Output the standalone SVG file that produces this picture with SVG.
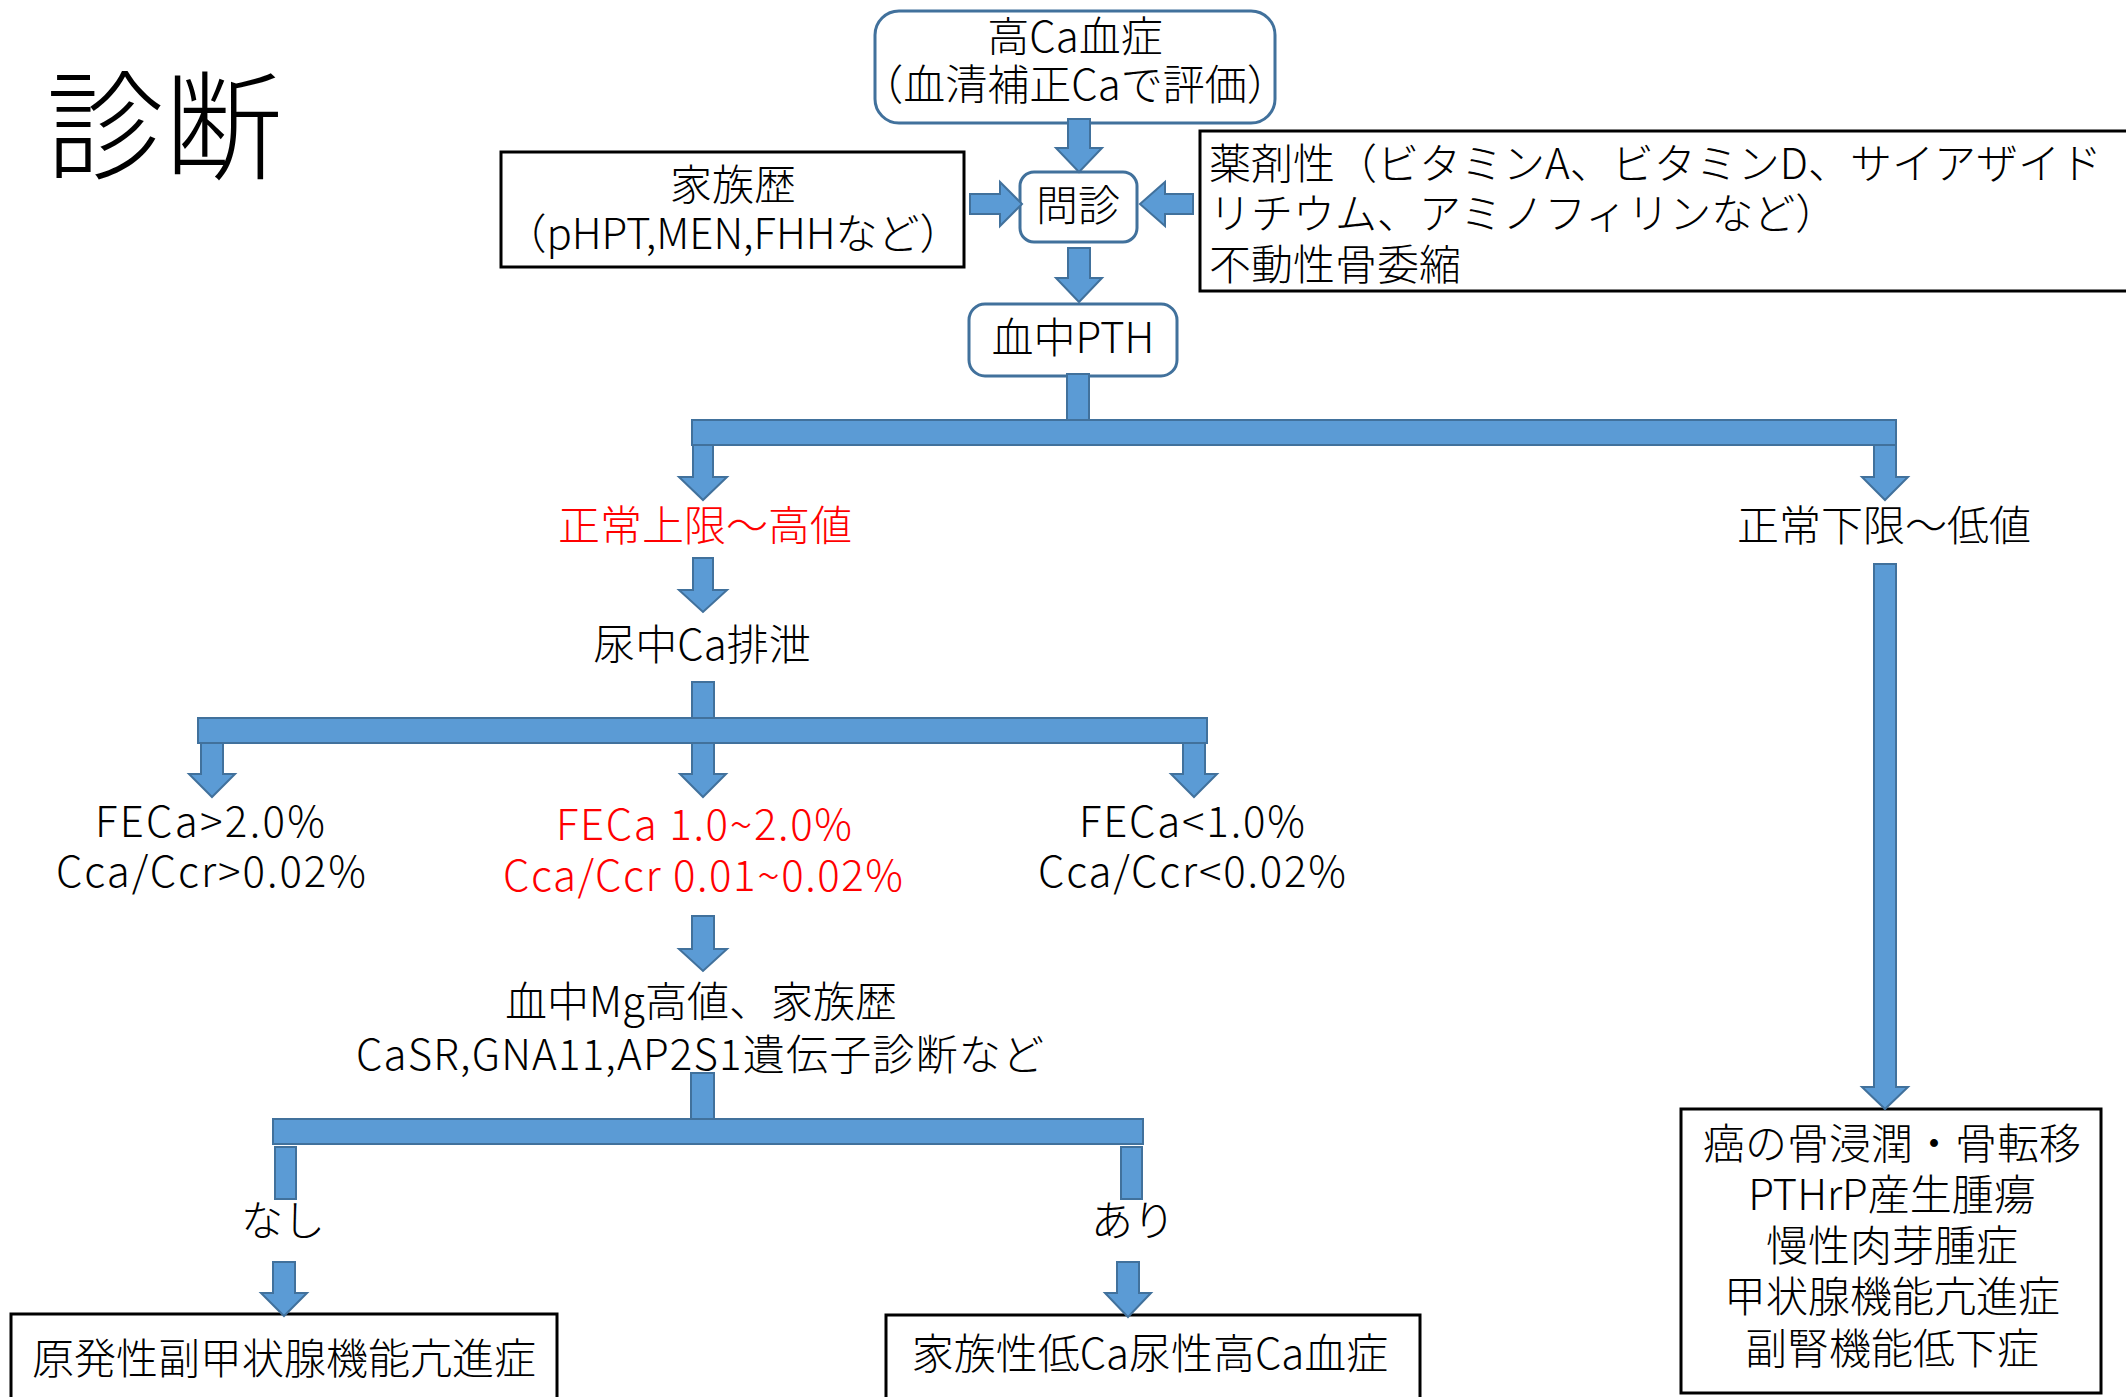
<svg xmlns="http://www.w3.org/2000/svg" width="2126" height="1397" viewBox="0 0 2126 1397">
<style>
text{font-family:"Noto Sans CJK JP","Noto Sans",sans-serif;font-size:42px;font-weight:300;fill:#000}
.c{text-anchor:middle}
.red{fill:#FF0000}
.rbox{fill:#fff;stroke:#41719C;stroke-width:3}
.box{fill:#fff;stroke:#000;stroke-width:3}
.ar{fill:#5B9BD5;stroke:#41719C;stroke-width:2;stroke-linejoin:miter}
</style>
<rect width="2126" height="1397" fill="#fff"/>
<text x="46" y="170" style="font-size:118px">診断</text>

<g id="n-hypercalcemia"><rect class="rbox" x="875" y="11" width="400" height="112" rx="24"/><text class="c" x="1075" y="52">高Ca血症<tspan x="1075" y="100">（血清補正Caで評価）</tspan></text></g>
<g id="n-family"><rect class="box" x="501" y="152" width="463" height="115"/><text class="c" x="733" y="200">家族歴<tspan x="733" y="249">（pHPT,MEN,FHHなど）</tspan></text></g>
<g id="n-interview"><rect class="rbox" x="1020" y="172" width="117" height="70" rx="14"/><text class="c" x="1078" y="221">問診</text></g>
<g id="n-drugs"><rect class="box" x="1200" y="131" width="940" height="160"/><text x="1209" y="179">薬剤性（ビタミンA、ビタミンD、サイアザイド<tspan x="1209" y="229">リチウム、アミノフィリンなど）</tspan><tspan x="1209" y="280">不動性骨委縮</tspan></text></g>
<g id="n-pth"><rect class="rbox" x="969" y="304" width="208" height="72" rx="16"/><text class="c" x="1073" y="353">血中PTH</text></g>
<g id="n-high"><text class="c red" x="705" y="541">正常上限～高値</text></g>
<g id="n-low"><text class="c" x="1884" y="541">正常下限～低値</text></g>
<g id="n-urine"><text class="c" x="702" y="660">尿中Ca排泄</text></g>
<g id="n-fe-high"><text class="c" x="210" y="837" textLength="230" lengthAdjust="spacing">FECa&gt;2.0%</text><text class="c" x="211" y="887" textLength="310" lengthAdjust="spacing">Cca/Ccr&gt;0.02%</text></g>
<g id="n-fe-mid"><text class="c red" x="704" y="840" textLength="296" lengthAdjust="spacing">FECa 1.0~2.0%</text><text class="c red" x="703" y="891" textLength="400" lengthAdjust="spacing">Cca/Ccr 0.01~0.02%</text></g>
<g id="n-fe-low"><text class="c" x="1192" y="837" textLength="226" lengthAdjust="spacing">FECa&lt;1.0%</text><text class="c" x="1192" y="887" textLength="308" lengthAdjust="spacing">Cca/Ccr&lt;0.02%</text></g>
<g id="n-mg"><text class="c" x="701" y="1017">血中Mg高値、家族歴</text><text class="c" x="700" y="1070" textLength="688" lengthAdjust="spacing">CaSR,GNA11,AP2S1遺伝子診断など</text></g>
<g id="n-none"><text class="c" x="283" y="1236">なし</text></g>
<g id="n-yes"><text class="c" x="1133" y="1236">あり</text></g>
<g id="n-phpt"><rect class="box" x="11" y="1314" width="546" height="100"/><text class="c" x="284" y="1374">原発性副甲状腺機能亢進症</text></g>
<g id="n-fhh"><rect class="box" x="886" y="1315" width="534" height="100"/><text class="c" x="1150" y="1369">家族性低Ca尿性高Ca血症</text></g>
<g id="n-other"><rect class="box" x="1681" y="1109" width="420" height="284"/><text class="c" x="1892" y="1159">癌の骨浸潤・骨転移<tspan x="1892" y="1210">PTHrP産生腫瘍</tspan><tspan x="1892" y="1261">慢性肉芽腫症</tspan><tspan x="1892" y="1312">甲状腺機能亢進症</tspan><tspan x="1892" y="1364">副腎機能低下症</tspan></text></g>

<g id="connectors">
<polygon class="ar" points="1068,119 1090,119 1090,148 1102,148 1079,172 1056,148 1068,148"/>
<polygon class="ar" points="970,194 1000,194 1000,182 1022,204 1000,226 1000,214 970,214"/>
<polygon class="ar" points="1193,194 1165,194 1165,182 1140,204 1165,226 1165,214 1193,214"/>
<polygon class="ar" points="1068,248 1090,248 1090,278 1102,278 1079,302 1056,278 1068,278"/>
<rect class="ar" x="1067" y="374" width="22" height="46"/>
<rect class="ar" x="692" y="420" width="1204" height="25"/>
<polygon class="ar" points="693,445 713,445 713,477 727,477 703,500 679,477 693,477"/>
<polygon class="ar" points="1874,445 1896,445 1896,477 1908,477 1885,500 1862,477 1874,477"/>
<polygon class="ar" points="693,558 713,558 713,590 727,590 703,612 679,590 693,590"/>
<polygon class="ar" points="1874,564 1896,564 1896,1087 1908,1087 1885,1109 1862,1087 1874,1087"/>
<rect class="ar" x="692" y="682" width="22" height="36"/>
<rect class="ar" x="198" y="718" width="1009" height="25"/>
<polygon class="ar" points="201,743 223,743 223,774 235,774 212,797 189,774 201,774"/>
<polygon class="ar" points="692,743 714,743 714,774 726,774 703,797 680,774 692,774"/>
<polygon class="ar" points="1183,743 1205,743 1205,774 1217,774 1194,797 1171,774 1183,774"/>
<polygon class="ar" points="692,916 714,916 714,949 727,949 703,971 679,949 692,949"/>
<rect class="ar" x="691" y="1073" width="23" height="46"/>
<rect class="ar" x="273" y="1119" width="870" height="25"/>
<rect class="ar" x="275" y="1147" width="21" height="52"/>
<rect class="ar" x="1121" y="1147" width="21" height="52"/>
<polygon class="ar" points="273,1262 295,1262 295,1293 307,1293 284,1316 261,1293 273,1293"/>
<polygon class="ar" points="1117,1262 1139,1262 1139,1293 1151,1293 1128,1317 1105,1293 1117,1293"/>
</g>
</svg>
